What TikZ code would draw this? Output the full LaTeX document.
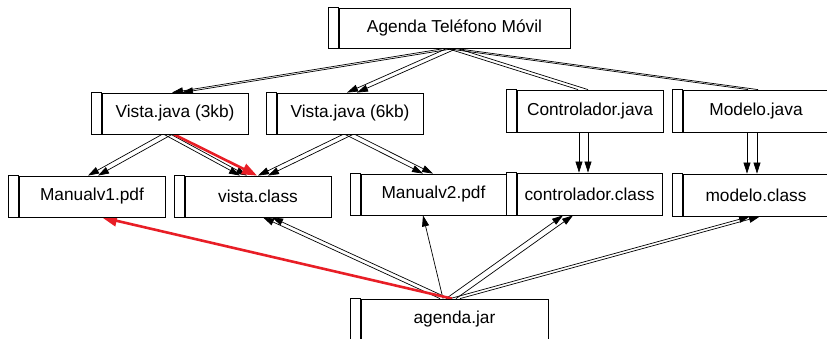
\documentclass[tikz,border=0pt]{standalone}
\usepackage{fontspec}
\setmainfont{Liberation Sans}
\usetikzlibrary{arrows.meta,backgrounds}
\definecolor{redline}{RGB}{232,30,38}
\begin{document}
\begin{tikzpicture}[x=1pt,y=-1pt,
  box/.style={draw, fill=white, line width=0.8pt, inner sep=0pt, anchor=center,
    font=\fontsize{17.3}{20}\selectfont},
  arr/.style={line width=0.7pt, -{Triangle[length=11pt,width=7pt]}},
  plain/.style={line width=0.7pt},
  redarr/.style={draw=redline, line width=2.6pt, -{Triangle[length=15pt,width=11pt]}, color=redline},
  stripbox/.style={draw, fill=white, line width=0.8pt}]
\useasboundingbox (0,0) rectangle (827,339);
\clip (0,0) rectangle (827,339);
% nodes (inner region of each box)
\node[box, minimum width=231, minimum height=40] (top) at (454.5,28) {Agenda Teléfono Móvil};
\node[box, minimum width=146, minimum height=41] (v3) at (175,113.5) {Vista.java (3kb)};
\node[box, minimum width=146, minimum height=41] (v6) at (350,113.5) {Vista.java (6kb)};
\node[box, minimum width=146, minimum height=42] (cj) at (590,111) {Controlador.java};
\node[box, minimum width=146, minimum height=42] (mj) at (756,111) {Modelo.java};
\node[box, minimum width=146, minimum height=41] (m1) at (92,196.5) {Manualv1.pdf};
\node[box, minimum width=146, minimum height=41] (vc) at (258,196.5) {vista.class};
\node[box, minimum width=145, minimum height=41] (m2) at (433.5,194.5) {Manualv2.pdf};
\node[box, minimum width=145, minimum height=42] (cc) at (589.5,194) {controlador.class};
\node[box, minimum width=146, minimum height=42] (mc) at (756,195) {modelo.class};
\node[box, minimum width=187, minimum height=41] (jar) at (454.5,319.5) {agenda.jar};
% left strips
\foreach \n in {top,v3,v6,cj,mj,m1,vc,m2,cc,mc,jar}
  \draw[stripbox] ([xshift=-10pt]\n.north west) rectangle (\n.south west);
\begin{pgfonlayer}{background}
% top -> second row
\draw[arr] ([xshift=-9.5pt]top.south) -- ([xshift=-3pt]v3.north);
\draw[arr] ([xshift=0.5pt]top.south) -- ([xshift=7pt]v3.north);
\draw[arr] ([xshift=-7.5pt]top.south) -- ([xshift=-3pt]v6.north);
\draw[arr] ([xshift=2.5pt]top.south) -- ([xshift=7pt]v6.north);
\draw[plain] ([xshift=-7.5pt]top.south) -- ([xshift=-12pt]cj.north);
\draw[plain] ([xshift=2.5pt]top.south) -- ([xshift=-2pt]cj.north);
\draw[plain] ([xshift=-9.5pt]top.south) -- ([xshift=-8pt]mj.north);
\draw[plain] ([xshift=0.5pt]top.south) -- ([xshift=2pt]mj.north);
% second row -> third row
\draw[arr] ([xshift=-13pt]v3.south) -- ([xshift=-4pt]m1.north);
\draw[arr] ([xshift=-3pt]v3.south) -- ([xshift=6pt]m1.north);
\draw[arr] ([xshift=-11pt]v3.south) -- ([xshift=-18pt]vc.north);
\draw[arr] ([xshift=-4pt]v3.south) -- ([xshift=-11pt]vc.north);
\draw[arr] ([xshift=-7pt]v6.south) -- ([xshift=0pt]vc.north);
\draw[arr] ([xshift=3pt]v6.south) -- ([xshift=10pt]vc.north);
\draw[arr] ([xshift=-5pt]v6.south) -- ([xshift=-10.5pt]m2.north);
\draw[arr] ([xshift=5pt]v6.south) -- ([xshift=-0.5pt]m2.north);
\draw[arr] ([xshift=-11pt]cj.south) -- ([xshift=-10.5pt]cc.north);
\draw[arr] ([xshift=-2pt]cj.south) -- ([xshift=-1.5pt]cc.north);
\draw[arr] ([xshift=-9pt]mj.south) -- ([xshift=-9pt]mc.north);
\draw[arr] ([xshift=1pt]mj.south) -- ([xshift=1pt]mc.north);
% jar -> third row
\draw[arr] ([xshift=-14.5pt]jar.north) -- ([xshift=5pt]vc.south);
\draw[arr] ([xshift=-5.5pt]jar.north) -- ([xshift=14pt]vc.south);
\draw[arr] ([xshift=-11.5pt]jar.north) -- ([xshift=-10.5pt]m2.south);
\draw[arr] ([xshift=-8.5pt]jar.north) -- ([xshift=-26.5pt]cc.south);
\draw[arr] ([xshift=1.5pt]jar.north) -- ([xshift=-16.5pt]cc.south);
\draw[arr] ([xshift=-4.5pt]jar.north) -- ([xshift=-6pt]mc.south);
\draw[arr] ([xshift=5.5pt]jar.north) -- ([xshift=4pt]mc.south);
% red connectors
\draw[redarr] ([xshift=-1pt]v3.south) -- ([xshift=-1pt]vc.north);
\draw[redarr] ([xshift=-2.5pt]jar.north) -- ([xshift=10pt]m1.south);
\end{pgfonlayer}
\end{tikzpicture}
\end{document}
